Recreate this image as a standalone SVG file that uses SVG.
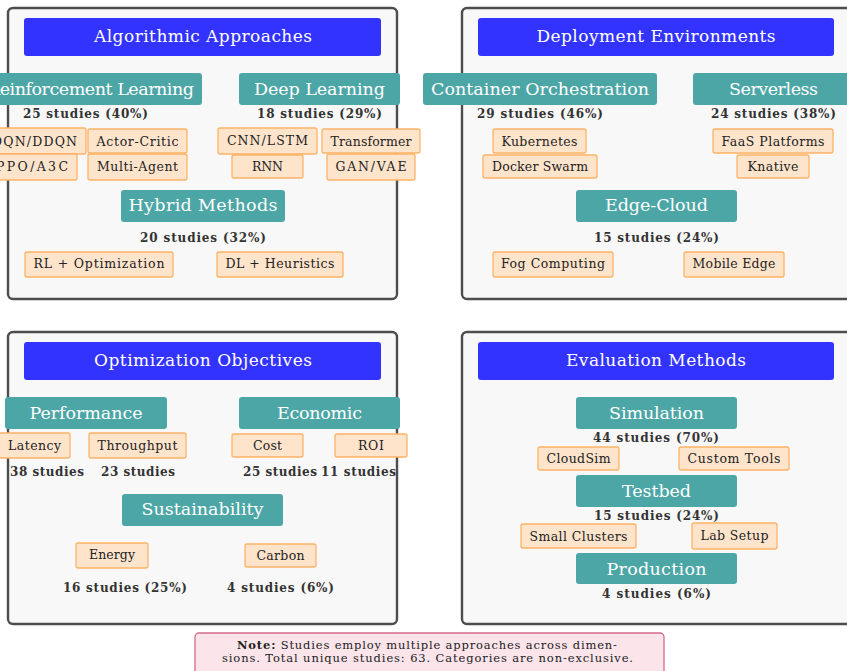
<svg xmlns="http://www.w3.org/2000/svg" width="847" height="671" viewBox="0 0 847 671">
<style>
text{font-family:"DejaVu Serif","Liberation Serif",serif;text-anchor:middle}
.panel{fill:#f8f8f8;stroke:#4d4d4d;stroke-width:2.4}
.bar{fill:#3333ff}
.cat{fill:#4da6a6}
.leaf{fill:#ffe4cc;stroke:#fdb366;stroke-width:1.3}
.note{fill:#fbe4ea;stroke:#d56b8f;stroke-width:1.3}
.tt{fill:#fff;font-size:17px}
.tc{fill:#fff;font-size:17.5px}
.ts{fill:#333;font-size:12px;font-weight:bold}
.tl{fill:#222;font-size:12.5px}
.tn{fill:#222;font-size:11.5px}
</style>
<rect width="847" height="671" fill="#ffffff"/>

<!-- Panel 1 -->
<g id="panel-algorithmic">
<rect class="panel" x="8" y="8" width="389" height="291" rx="5"/>
<rect class="bar" x="24" y="18" width="357" height="38" rx="3"/>
<text class="tt" x="203" y="42" textLength="218" lengthAdjust="spacing">Algorithmic Approaches</text>
</g>
<g id="rl">
<rect class="cat" x="-21" y="73" width="223" height="32" rx="3"/>
<text class="tc" x="90.5" y="95" textLength="207" lengthAdjust="spacing">Reinforcement Learning</text>
<text class="ts" x="85.5" y="118" textLength="125" lengthAdjust="spacing">25 studies (40%)</text>
</g>
<g id="dqn"><rect class="leaf" x="-17" y="128" width="103" height="26" rx="2"/><text class="tl" x="34.5" y="146" textLength="85" lengthAdjust="spacing">DQN/DDQN</text></g>
<g id="actor-critic"><rect class="leaf" x="88" y="129" width="99" height="24" rx="2"/><text class="tl" x="137.5" y="146" textLength="82" lengthAdjust="spacing">Actor-Critic</text></g>
<g id="ppo"><rect class="leaf" x="-13" y="154" width="90" height="26" rx="2"/><text class="tl" x="32" y="171" textLength="72" lengthAdjust="spacing">PPO/A3C</text></g>
<g id="multi-agent"><rect class="leaf" x="88" y="154" width="99" height="26" rx="2"/><text class="tl" x="137.5" y="171" textLength="81" lengthAdjust="spacing">Multi-Agent</text></g>
<g id="dl">
<rect class="cat" x="239" y="73" width="161" height="32" rx="3"/>
<text class="tc" x="319.5" y="95" textLength="131" lengthAdjust="spacing">Deep Learning</text>
<text class="ts" x="319.5" y="118" textLength="125" lengthAdjust="spacing">18 studies (29%)</text>
</g>
<g id="cnn"><rect class="leaf" x="218" y="128" width="99" height="26" rx="2"/><text class="tl" x="267.5" y="145" textLength="81" lengthAdjust="spacing">CNN/LSTM</text></g>
<g id="transformer"><rect class="leaf" x="322" y="129" width="98" height="24" rx="2"/><text class="tl" x="371" y="146" textLength="81" lengthAdjust="spacing">Transformer</text></g>
<g id="rnn"><rect class="leaf" x="232" y="155" width="71" height="23" rx="2"/><text class="tl" x="267.5" y="171" textLength="31" lengthAdjust="spacing">RNN</text></g>
<g id="gan"><rect class="leaf" x="327" y="154" width="88" height="26" rx="2"/><text class="tl" x="371" y="171" textLength="71" lengthAdjust="spacing">GAN/VAE</text></g>
<g id="hybrid">
<rect class="cat" x="121" y="190" width="164" height="32" rx="3"/>
<text class="tc" x="203" y="211" textLength="149" lengthAdjust="spacing">Hybrid Methods</text>
<text class="ts" x="203" y="242" textLength="126" lengthAdjust="spacing">20 studies (32%)</text>
</g>
<g id="rl-opt"><rect class="leaf" x="25" y="252" width="148" height="25" rx="2"/><text class="tl" x="99" y="268" textLength="131" lengthAdjust="spacing">RL + Optimization</text></g>
<g id="dl-heur"><rect class="leaf" x="217" y="252" width="126" height="25" rx="2"/><text class="tl" x="280" y="268" textLength="109" lengthAdjust="spacing">DL + Heuristics</text></g>

<!-- Panel 2 -->
<g id="panel-deployment">
<rect class="panel" x="462" y="8" width="389" height="291" rx="5"/>
<rect class="bar" x="478" y="18" width="356" height="38" rx="3"/>
<text class="tt" x="656" y="42" textLength="239" lengthAdjust="spacing">Deployment Environments</text>
</g>
<g id="container">
<rect class="cat" x="423" y="73" width="234" height="32" rx="3"/>
<text class="tc" x="540" y="95" textLength="218" lengthAdjust="spacing">Container Orchestration</text>
<text class="ts" x="540" y="118" textLength="126" lengthAdjust="spacing">29 studies (46%)</text>
</g>
<g id="kubernetes"><rect class="leaf" x="493" y="129" width="93" height="24" rx="2"/><text class="tl" x="539.5" y="146" textLength="76" lengthAdjust="spacing">Kubernetes</text></g>
<g id="docker"><rect class="leaf" x="483" y="155" width="114" height="23" rx="2"/><text class="tl" x="540" y="171" textLength="96" lengthAdjust="spacing">Docker Swarm</text></g>
<g id="serverless">
<rect class="cat" x="693" y="73" width="161" height="32" rx="3"/>
<text class="tc" x="773.5" y="95" textLength="89" lengthAdjust="spacing">Serverless</text>
<text class="ts" x="773.5" y="118" textLength="125" lengthAdjust="spacing">24 studies (38%)</text>
</g>
<g id="faas"><rect class="leaf" x="713" y="129" width="120" height="24" rx="2"/><text class="tl" x="773" y="146" textLength="103" lengthAdjust="spacing">FaaS Platforms</text></g>
<g id="knative"><rect class="leaf" x="737" y="155" width="72" height="23" rx="2"/><text class="tl" x="773" y="171" textLength="51" lengthAdjust="spacing">Knative</text></g>
<g id="edge-cloud">
<rect class="cat" x="576" y="190" width="161" height="32" rx="3"/>
<text class="tc" x="656.5" y="211" textLength="103" lengthAdjust="spacing">Edge-Cloud</text>
<text class="ts" x="656.5" y="242" textLength="125" lengthAdjust="spacing">15 studies (24%)</text>
</g>
<g id="fog"><rect class="leaf" x="493" y="252" width="120" height="25" rx="2"/><text class="tl" x="553" y="268" textLength="104" lengthAdjust="spacing">Fog Computing</text></g>
<g id="mobile-edge"><rect class="leaf" x="684" y="252" width="100" height="25" rx="2"/><text class="tl" x="734" y="268" textLength="83" lengthAdjust="spacing">Mobile Edge</text></g>

<!-- Panel 3 -->
<g id="panel-objectives">
<rect class="panel" x="8" y="332" width="389" height="292" rx="5"/>
<rect class="bar" x="24" y="342" width="357" height="38" rx="3"/>
<text class="tt" x="203" y="366" textLength="218" lengthAdjust="spacing">Optimization Objectives</text>
</g>
<g id="performance">
<rect class="cat" x="5" y="397" width="162" height="32" rx="3"/>
<text class="tc" x="86" y="419" textLength="113" lengthAdjust="spacing">Performance</text>
</g>
<g id="latency"><rect class="leaf" x="-1" y="433" width="71" height="25" rx="2"/><text class="tl" x="34.5" y="450" textLength="53" lengthAdjust="spacing">Latency</text><text class="ts" x="47" y="476" textLength="74" lengthAdjust="spacing">38 studies</text></g>
<g id="throughput"><rect class="leaf" x="89" y="433" width="97" height="25" rx="2"/><text class="tl" x="137.5" y="450" textLength="80" lengthAdjust="spacing">Throughput</text><text class="ts" x="138" y="476" textLength="74" lengthAdjust="spacing">23 studies</text></g>
<g id="economic">
<rect class="cat" x="239" y="397" width="161" height="32" rx="3"/>
<text class="tc" x="319.5" y="419" textLength="85" lengthAdjust="spacing">Economic</text>
</g>
<g id="cost"><rect class="leaf" x="232" y="434" width="71" height="23" rx="2"/><text class="tl" x="267.5" y="450" textLength="29" lengthAdjust="spacing">Cost</text><text class="ts" x="280" y="476" textLength="74" lengthAdjust="spacing">25 studies</text></g>
<g id="roi"><rect class="leaf" x="335" y="434" width="72" height="23" rx="2"/><text class="tl" x="371" y="450" textLength="26" lengthAdjust="spacing">ROI</text><text class="ts" x="358.5" y="476" textLength="75" lengthAdjust="spacing">11 studies</text></g>
<g id="sustainability">
<rect class="cat" x="122" y="494" width="161" height="32" rx="3"/>
<text class="tc" x="202.5" y="515" textLength="122" lengthAdjust="spacing">Sustainability</text>
</g>
<g id="energy"><rect class="leaf" x="76" y="543" width="72" height="25" rx="2"/><text class="tl" x="112" y="559" textLength="46" lengthAdjust="spacing">Energy</text><text class="ts" x="125" y="592" textLength="124" lengthAdjust="spacing">16 studies (25%)</text></g>
<g id="carbon"><rect class="leaf" x="245" y="544" width="71" height="23" rx="2"/><text class="tl" x="280.5" y="560" textLength="48" lengthAdjust="spacing">Carbon</text><text class="ts" x="280.5" y="592" textLength="107" lengthAdjust="spacing">4 studies (6%)</text></g>

<!-- Panel 4 -->
<g id="panel-evaluation">
<rect class="panel" x="462" y="332" width="389" height="292" rx="5"/>
<rect class="bar" x="478" y="342" width="356" height="38" rx="3"/>
<text class="tt" x="656" y="366" textLength="180" lengthAdjust="spacing">Evaluation Methods</text>
</g>
<g id="simulation">
<rect class="cat" x="576" y="397" width="161" height="32" rx="3"/>
<text class="tc" x="656.5" y="419" textLength="95" lengthAdjust="spacing">Simulation</text>
<text class="ts" x="656" y="442" textLength="126" lengthAdjust="spacing">44 studies (70%)</text>
</g>
<g id="cloudsim"><rect class="leaf" x="538" y="447" width="81" height="23" rx="2"/><text class="tl" x="578.5" y="463" textLength="64" lengthAdjust="spacing">CloudSim</text></g>
<g id="custom-tools"><rect class="leaf" x="679" y="447" width="110" height="23" rx="2"/><text class="tl" x="734" y="463" textLength="93" lengthAdjust="spacing">Custom Tools</text></g>
<g id="testbed">
<rect class="cat" x="576" y="475" width="161" height="32" rx="3"/>
<text class="tc" x="656.5" y="497" textLength="69" lengthAdjust="spacing">Testbed</text>
<text class="ts" x="656.5" y="520" textLength="125" lengthAdjust="spacing">15 studies (24%)</text>
</g>
<g id="small-clusters"><rect class="leaf" x="521" y="524" width="115" height="24" rx="2"/><text class="tl" x="578.5" y="541" textLength="98" lengthAdjust="spacing">Small Clusters</text></g>
<g id="lab-setup"><rect class="leaf" x="692" y="523" width="85" height="26" rx="2"/><text class="tl" x="734.5" y="540" textLength="68" lengthAdjust="spacing">Lab Setup</text></g>
<g id="production">
<rect class="cat" x="576" y="553" width="161" height="31" rx="3"/>
<text class="tc" x="656.5" y="575" textLength="100" lengthAdjust="spacing">Production</text>
<text class="ts" x="656.5" y="598" textLength="109" lengthAdjust="spacing">4 studies (6%)</text>
</g>

<!-- Note -->
<g id="note">
<rect class="note" x="195" y="633" width="469" height="44" rx="4"/>
<text class="tn" x="427" y="649" textLength="380" lengthAdjust="spacing"><tspan font-weight="bold">Note:</tspan> Studies employ multiple approaches across dimen-</text>
<text class="tn" x="427.5" y="662" textLength="411" lengthAdjust="spacing">sions. Total unique studies: 63. Categories are non-exclusive.</text>
</g>
</svg>
